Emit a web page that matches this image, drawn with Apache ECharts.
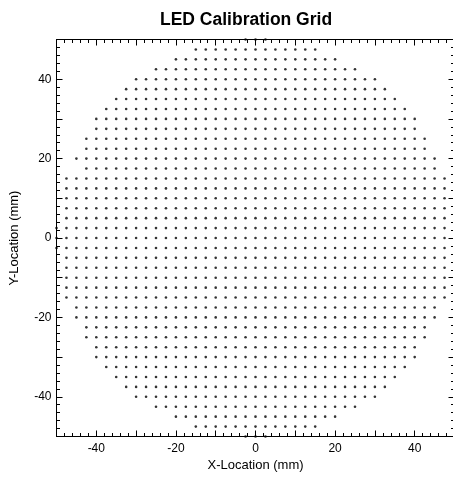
<!DOCTYPE html>
<html>
<head>
<meta charset="utf-8">
<script src="https://cdn.jsdelivr.net/npm/echarts@6/dist/echarts.min.js"></script>
<style>html,body{margin:0;padding:0;background:#fff;overflow:hidden}#c{width:453px;height:478px}</style>
</head>
<body>
<div id="c"></div>
<script>
// Grid rows (mm): row y, first and last x, spacing 2.5 mm
var rowY     = [50, 47.5, 45, 42.5, 40, 37.5, 35, 32.5, 30, 27.5, 25, 22.5, 20, 17.5, 15, 12.5, 10, 7.5, 5, 2.5, 0,
                -2.5, -5, -7.5, -10, -12.5, -15, -17.5, -20, -22.5, -25, -27.5, -30, -32.5, -35, -37.5, -40, -42.5, -45, -47.5, -50];
var rowXFrom = [-2.5, -15, -20, -25, -30, -32.5, -35, -37.5, -40, -40, -42.5, -42.5, -45, -42.5, -47.5, -47.5, -47.5, -47.5, -47.5, -50, -50,
                -50, -47.5, -47.5, -47.5, -47.5, -47.5, -45, -45, -42.5, -42.5, -40, -40, -37.5, -35, -32.5, -30, -25, -20, -15, -2.5];
var rowXTo   = [2.5, 15, 20, 25, 30, 32.5, 35, 37.5, 40, 40, 42.5, 42.5, 45, 45, 47.5, 47.5, 47.5, 47.5, 47.5, 50, 50,
                50, 47.5, 47.5, 47.5, 47.5, 47.5, 45, 45, 42.5, 42.5, 40, 40, 37.5, 35, 32.5, 30, 25, 20, 15, 2.5];
var pitch = 2.5;
var xTicks = [-40, -20, 0, 20, 40];
var yTicks = [-40, -20, 0, 20, 40];

var points = [];
for (var r = 0; r < rowY.length; r++) {
  var n = Math.round((rowXTo[r] - rowXFrom[r]) / pitch);
  for (var k = 0; k <= n; k++) points.push([rowXFrom[r] + k * pitch, rowY[r]]);
}

var FONT = 'Liberation Sans, Arial, sans-serif';
function mkAxis(isX, pos, showLabel, name) {
  var ticks = isX ? xTicks : yTicks;
  var a = {
    type: 'value', min: -50, max: 50, interval: 10, position: pos,
    axisLine: { show: true, onZero: false, lineStyle: { color: '#000', width: 1 } },
    axisTick: { show: true, inside: true, length: 6, lineStyle: { color: '#000' } },
    minorTick: { show: true, splitNumber: 5, length: 3.5, lineStyle: { color: '#000' } },
    splitLine: { show: false },
    axisLabel: {
      show: showLabel, color: '#000', fontFamily: FONT, fontSize: 12, margin: isX ? 6 : 5,
      formatter: function (v) { return ticks.indexOf(v) >= 0 ? String(v) : ''; }
    }
  };
  if (name) {
    a.name = name; a.nameLocation = 'middle'; a.nameGap = isX ? 21 : 36;
    a.nameTextStyle = { color: '#000', fontFamily: FONT, fontSize: 13 };
  }
  return a;
}

var chart = echarts.init(document.getElementById('c'), null, { renderer: 'canvas' });
chart.setOption({
  animation: false,
  backgroundColor: '#fff',
  title: { text: 'LED Calibration Grid', left: 155, top: 6,
           textStyle: { fontFamily: FONT, fontSize: 17.5, fontWeight: 'bold', color: '#000' } },
  grid: { left: 56.5, top: 39.5, width: 398, height: 397, containLabel: false, outerBoundsMode: 'none' },
  xAxis: [mkAxis(true, 'bottom', true, 'X-Location (mm)'), mkAxis(true, 'top', false, null)],
  yAxis: [mkAxis(false, 'left', true, 'Y-Location (mm)'), mkAxis(false, 'right', false, null)],
  series: [{
    type: 'scatter', xAxisIndex: 0, yAxisIndex: 0, data: points,
    symbol: 'circle', symbolSize: 2.6, clip: false,
    itemStyle: { color: '#000' }
  }]
});
</script>
</body>
</html>
